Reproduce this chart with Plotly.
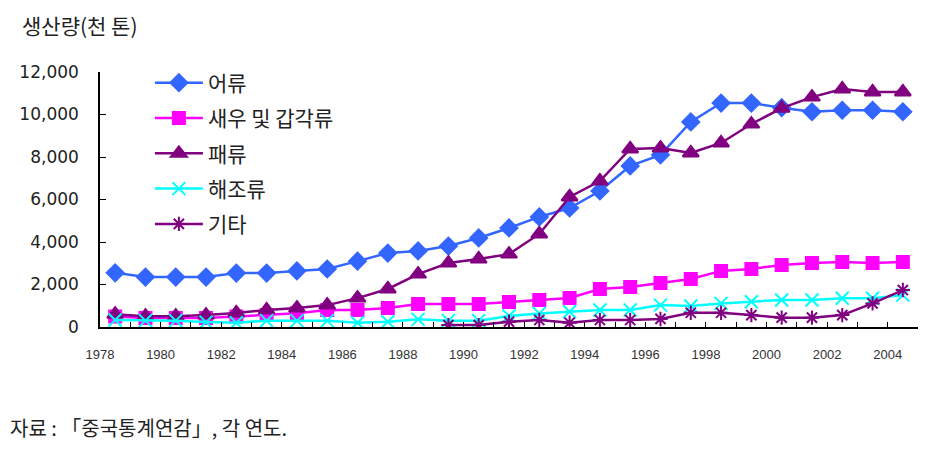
import plotly.graph_objects as go

# data (thousand tonnes)
years = list(range(1978, 2005))
tick_labels = ['1978', '1980', '1982', '1984', '1986', '1988', '1990',
               '1992', '1994', '1996', '1998', '2000', '2002', '2004']

fish = [2550, 2350, 2350, 2350, 2540, 2540, 2640, 2730, 3100, 3480, 3580, 3810, 4190, 4660,
        5180, 5600, 6400, 7580, 8100, 9650, 10540, 10540, 10320, 10130, 10200, 10200, 10130]
shrimp = [490, 420, 420, 420, 490, 560, 650, 800, 800, 890, 1080, 1080, 1080, 1180,
          1270, 1370, 1790, 1880, 2070, 2260, 2640, 2730, 2920, 3010, 3060, 3010, 3060]
shell = [600, 510, 510, 560, 660, 800, 890, 1030, 1360, 1790, 2490, 3010, 3200, 3430,
         4380, 6120, 6870, 8380, 8420, 8190, 8660, 9550, 10300, 10820, 11200, 11060, 11060]
seaweed = [330, 300, 300, 230, 200, 300, 300, 300, 200, 250, 360, 300, 300, 520,
           640, 720, 800, 800, 1030, 990, 1110, 1190, 1270, 1270, 1350, 1350, 1500]
other = [None] * 11 + [90, 90, 250, 330, 200, 330, 330, 380, 670, 670, 560, 440, 440, 560, 1110, 1740]

names = ['어류', '새우 및 갑각류', '패류', '해조류', '기타']
colors = ['#3366FF', '#FF00FF', '#800080', '#00FFFF', '#800080']
symbols = ['diamond', 'square', 'triangle-up', 'x-thin-open', 'asterisk-open']
sizes = [13, 12, 14, 13, 12]
series = [fish, shrimp, shell, seaweed, other]

kfont = 'Noto Sans CJK KR, sans-serif'
nfont = 'Liberation Sans, Arial, sans-serif'

fig = go.Figure()
for i in range(len(series)):
    fig.add_trace(go.Scatter(
        x=years, y=series[i], name=names[i], mode='lines+markers',
        legendgroup=str(i),
        line=dict(color=colors[i], width=2.5),
        marker=dict(symbol=symbols[i], size=sizes[i], color=colors[i],
                    line=dict(color=colors[i], width=2)),
    ))

# category-style axis: labels sit on the boundary left of each labelled year
tickvals = [int(t) - 0.5 for t in tick_labels]

# the page body adds an 8px margin, so the figure is 8px smaller than the window
fig.update_layout(
    width=922, height=442,
    margin=dict(l=92, r=12, t=64, b=123),
    plot_bgcolor='white', paper_bgcolor='white',
    showlegend=True,
    legend=dict(x=0.061, y=1.037, xanchor='left', yanchor='top',
                font=dict(family=kfont, size=21, color='#222'),
                tracegroupgap=5, itemwidth=48, bgcolor='rgba(0,0,0,0)'),
    xaxis=dict(range=[1977.5, 2004.5], tickmode='array', tickvals=tickvals,
               ticktext=tick_labels, ticks='inside', ticklen=5, tickcolor='black',
               showline=True, linecolor='black', linewidth=1.5, showgrid=False,
               zeroline=False, ticklabelstandoff=15,
               tickfont=dict(family=nfont, size=13, color='#333'),
               minor=dict(tickmode='linear', tick0=1977.5, dtick=1, ticks='inside',
                          ticklen=5, tickcolor='black')),
    yaxis=dict(range=[0, 12000], dtick=2000, tickformat=',', ticks='inside',
               ticklen=6, tickcolor='black', showline=True, linecolor='black',
               linewidth=1.5, showgrid=False, zeroline=False, ticklabelstandoff=16,
               tickfont=dict(family='DejaVu Sans, sans-serif', size=17, color='#222')),
    annotations=[
        dict(text='생산량(천 톤)', xref='paper', yref='paper', x=-0.098, y=1.184,
             xanchor='left', yanchor='middle', showarrow=False,
             font=dict(family=kfont, size=21, color='#222')),
        dict(text='자료 : 「중국통계연감」, 각 연도.', xref='paper', yref='paper',
             x=-0.1125, y=-0.396, xanchor='left', yanchor='middle', showarrow=False,
             font=dict(family=kfont, size=20, color='#222')),
    ],
)

fig.write_html('out.html')
